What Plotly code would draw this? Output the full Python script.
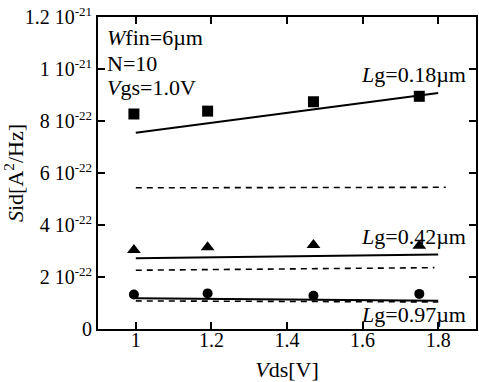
import plotly.graph_objects as go

vds = [0.995, 1.19, 1.47, 1.75]
sid_018 = [8.27e-22, 8.38e-22, 8.74e-22, 8.95e-22]
sid_042 = [3.04e-22, 3.14e-22, 3.23e-22, 3.20e-22]
sid_097 = [1.33e-22, 1.37e-22, 1.28e-22, 1.35e-22]

fit_x = [1.0, 1.8]
fit_018 = [7.55e-22, 9.08e-22]
fit_042 = [2.72e-22, 2.87e-22]
fit_097 = [1.18e-22, 1.09e-22]

dash_x_018 = [1.0, 1.82]
dash_018 = [5.43e-22, 5.45e-22]
dash_x_042 = [1.0, 1.79]
dash_042 = [2.26e-22, 2.36e-22]
dash_x_097 = [1.0, 1.8]
dash_097 = [1.08e-22, 1.04e-22]

xticks = [1.0, 1.2, 1.4, 1.6, 1.8]
xticktext = ["1", "1.2", "1.4", "1.6", "1.8"]
yticks = [0, 2e-22, 4e-22, 6e-22, 8e-22, 1e-21, 1.2e-21]
ytick_mant = ["0", "2", "4", "6", "8", "1", "1.2"]
ytick_exp = ["", "-22", "-22", "-22", "-22", "-21", "-21"]
yticktext = [m if not e else f"{m} 10<sup><span style='font-size:13px'>{e}</span></sup>"
             for m, e in zip(ytick_mant, ytick_exp)]

FONT = "Liberation Serif, Times New Roman, serif"
FS = 22
TFS = 20
fig = go.Figure()

for xs, ys in [(fit_x, fit_018), (fit_x, fit_042), (fit_x, fit_097)]:
    fig.add_trace(go.Scatter(x=xs, y=ys, mode="lines",
                             line=dict(color="black", width=2), showlegend=False))
for xs, ys in [(dash_x_018, dash_018), (dash_x_042, dash_042), (dash_x_097, dash_097)]:
    fig.add_trace(go.Scatter(x=xs, y=ys, mode="lines",
                             line=dict(color="black", width=1.6, dash="6px,5px"), showlegend=False))

fig.add_trace(go.Scatter(x=vds, y=sid_018, mode="markers",
                         marker=dict(symbol="square", size=11, color="black"), showlegend=False))
fig.add_trace(go.Scatter(x=vds, y=sid_042, mode="markers",
                         marker=dict(symbol="triangle-up", size=12, color="black"), showlegend=False))
fig.add_trace(go.Scatter(x=vds, y=sid_097, mode="markers",
                         marker=dict(symbol="circle", size=10, color="black"), showlegend=False))

ann_font = dict(family=FONT, size=FS, color="black")
anns = [
    dict(x=0.918, y=11.23e-22, text="<i>W</i>fin=6µm", xanchor="left"),
    dict(x=0.918, y=10.23e-22, text="N=10", xanchor="left"),
    dict(x=0.918, y=9.27e-22, text="<i>V</i>gs=1.0V", xanchor="left"),
    dict(x=1.879, y=9.77e-22, text="<i>L</i>g=0.18µm", xanchor="right"),
    dict(x=1.879, y=3.54e-22, text="<i>L</i>g=0.42µm", xanchor="right"),
    dict(x=1.879, y=0.54e-22, text="<i>L</i>g=0.97µm", xanchor="right"),
]
for a in anns:
    fig.add_annotation(x=a["x"], y=a["y"], text=a["text"], xanchor=a["xanchor"],
                       yanchor="middle", showarrow=False, font=ann_font)

axis_common = dict(showline=True, linecolor="black", linewidth=2, mirror="ticks",
                   ticks="inside", ticklen=7, tickwidth=2, tickcolor="black",
                   showgrid=False, zeroline=False,
                   tickfont=dict(family=FONT, size=TFS, color="black"))

fig.update_xaxes(range=[0.9, 1.9], tickvals=xticks, ticktext=xticktext,
                 ticklabelstandoff=-8,
                 title=dict(text="<i>V</i>ds[V]", font=dict(family=FONT, size=FS, color="black"),
                            standoff=12), **axis_common)
fig.update_yaxes(range=[0, 1.2e-21], tickvals=yticks, ticktext=yticktext,
                 title=dict(text="<i>S</i>id[A<sup>2</sup>/Hz]",
                            font=dict(family=FONT, size=FS, color="black"), standoff=2),
                 **axis_common)

fig.update_layout(width=479, height=382, margin=dict(l=98, r=1, t=17, b=53),
                  plot_bgcolor="white", paper_bgcolor="white",
                  font=dict(family=FONT, size=FS, color="black"))

fig.write_html("out.html")
